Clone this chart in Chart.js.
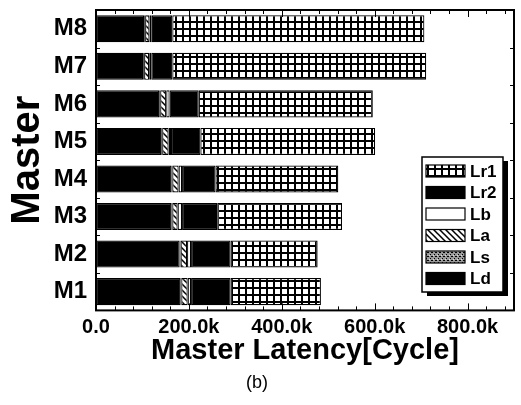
<!DOCTYPE html>
<html>
<head>
<meta charset="utf-8">
<script src="https://cdn.jsdelivr.net/npm/chart.js@4.4.1/dist/chart.umd.min.js"></script>
<style>
html, body { margin: 0; padding: 0; background: #fff; }
#wrap { width: 521px; height: 405px; }
</style>
</head>
<body>
<div id="wrap"><canvas id="latency-chart" width="521" height="405"></canvas></div>
<script>
// values in cycles
const masters = ['M1', 'M2', 'M3', 'M4', 'M5', 'M6', 'M7', 'M8'];
const ld  = [181600, 180100, 162200, 162200, 140500, 136200, 101600, 103800];
const ls  = [2000, 2000, 2000, 2000, 2000, 2000, 2000, 2000];
const la  = [13800, 14000, 11600, 13700, 13800, 13100, 11000, 9400];
const lb  = [7300, 8600, 9500, 7400, 5200, 7200, 4400, 4800];
const lr2 = [85000, 85000, 75700, 72000, 63300, 62700, 45300, 44300];
const lr1 = [194600, 187500, 268700, 264400, 376200, 374800, 546700, 542700];
const xTickLabels = ['0.0', '200.0k', '400.0k', '600.0k', '800.0k'];
const xMax = 900000;
const majorStep = 200000;
const minorStep = 40000;

const FONT = 'Liberation Sans, Arial, sans-serif';
Chart.defaults.color = '#000';
Chart.defaults.font.family = FONT;

function makePattern(w, h, draw) {
    const c = document.createElement('canvas');
    c.width = w;
    c.height = h;
    const g = c.getContext('2d');
    draw(g, w, h);
    return g.createPattern(c, 'repeat');
}

const ctx = document.getElementById('latency-chart').getContext('2d');

const gridFill = makePattern(7, 7, (g, w, h) => {
    g.fillStyle = '#fff';
    g.fillRect(0, 0, w, h);
    g.fillStyle = '#000';
    g.fillRect(0, 0, w, 2);
    g.fillRect(0, 0, 2, h);
});
const hatchFill = makePattern(6, 6, (g, w, h) => {
    g.fillStyle = '#fff';
    g.fillRect(0, 0, w, h);
    g.strokeStyle = '#000';
    g.lineWidth = 1.5;
    g.beginPath();
    g.moveTo(-1, -1); g.lineTo(w + 1, h + 1);
    g.moveTo(w - 1, -1); g.lineTo(w + 1, 1);
    g.moveTo(-1, h - 1); g.lineTo(1, h + 1);
    g.stroke();
});
const denseFill = makePattern(4, 4, (g, w, h) => {
    g.fillStyle = '#999';
    g.fillRect(0, 0, w, h);
    g.fillStyle = '#000';
    g.fillRect(0, 0, 1, 1);
    g.fillRect(2, 2, 1, 1);
    g.fillRect(3, 0, 1, 1);
    g.fillStyle = '#ddd';
    g.fillRect(1, 3, 1, 1);
});

const series = [
    { label: 'Ld', data: ld, fill: '#000' },
    { label: 'Ls', data: ls, fill: denseFill },
    { label: 'La', data: la, fill: hatchFill },
    { label: 'Lb', data: lb, fill: '#fff' },
    { label: 'Lr2', data: lr2, fill: '#000' },
    { label: 'Lr1', data: lr1, fill: gridFill },
];

const isMajor = v => Math.abs(v / majorStep - Math.round(v / majorStep)) < 1e-6;

// frame with inward ticks on all four sides
const frameTicks = {
    id: 'frameTicks',
    afterDatasetsDraw(chart) {
        const { ctx, chartArea: a, scales: { x, y } } = chart;
        ctx.save();
        ctx.strokeStyle = '#000';
        ctx.lineWidth = 1;
        ctx.beginPath();
        x.ticks.forEach(t => {
            const px = Math.round(x.getPixelForValue(t.value)) + 0.5;
            const len = isMajor(t.value) ? 7 : 4;
            ctx.moveTo(px, a.bottom); ctx.lineTo(px, a.bottom - len);
            ctx.moveTo(px, a.top); ctx.lineTo(px, a.top + len);
        });
        for (let i = 0; i <= masters.length; i++) {
            const py = Math.round(y.getPixelForValue(i - 0.5)) + 0.5;
            ctx.moveTo(a.left, py); ctx.lineTo(a.left + 4, py);
            ctx.moveTo(a.right, py); ctx.lineTo(a.right - 4, py);
        }
        ctx.stroke();
        ctx.lineWidth = 2;
        ctx.strokeRect(a.left, a.top, a.right - a.left, a.bottom - a.top);
        ctx.restore();
    }
};

// boxed legend with shadow inside the plot, Lr1 on top
const boxLegend = {
    id: 'boxLegend',
    afterDraw(chart) {
        const { ctx, chartArea: a } = chart;
        const left = a.right - 92, top = a.top + 147, w = 81, h = 135;
        ctx.save();
        ctx.fillStyle = '#000';
        ctx.fillRect(left + 5, top + 4, w, h);
        ctx.fillStyle = '#fff';
        ctx.fillRect(left, top, w, h);
        ctx.strokeStyle = '#000';
        ctx.lineWidth = 1.5;
        ctx.strokeRect(left, top, w, h);
        const sets = chart.data.datasets.slice().reverse();
        ctx.font = 'bold 17px ' + FONT;
        ctx.textBaseline = 'middle';
        sets.forEach((ds, i) => {
            const cy = top + 14 + i * 21.5;
            ctx.fillStyle = ds.backgroundColor;
            ctx.fillRect(left + 4, cy - 6, 39, 12);
            ctx.lineWidth = 1.2;
            ctx.strokeRect(left + 4, cy - 6, 39, 12);
            ctx.fillStyle = '#000';
            ctx.fillText(ds.label, left + 48, cy + 1);
        });
        ctx.restore();
    }
};

const latencyChart = new Chart(ctx, {
    type: 'bar',
    data: {
        labels: masters,
        datasets: series.map(s => ({
            label: s.label,
            data: s.data,
            backgroundColor: s.fill,
            borderColor: '#000',
            borderWidth: 1.2,
            borderSkipped: false,
            categoryPercentage: 0.72,
            barPercentage: 1,
        })),
    },
    options: {
        indexAxis: 'y',
        responsive: false,
        animation: false,
        devicePixelRatio: 1,
        layout: { padding: { top: 10, right: 7, left: 0, bottom: 0 } },
        plugins: {
            legend: { display: false },
            tooltip: { enabled: false },
            title: {
                display: true,
                position: 'bottom',
                text: '(b)',
                font: { size: 18, weight: 'normal' },
                padding: { top: 0, bottom: 11 },
            },
        },
        scales: {
            x: {
                stacked: true,
                min: 0,
                max: xMax,
                grid: { display: false, drawTicks: false },
                border: { display: false },
                afterBuildTicks: s => {
                    const ticks = [];
                    for (let v = 0; v < xMax; v += minorStep) ticks.push({ value: v });
                    s.ticks = ticks;
                },
                ticks: {
                    autoSkip: false,
                    maxRotation: 0,
                    padding: 5,
                    font: { size: 20, weight: 'bold' },
                    callback: v => isMajor(v) ? (xTickLabels[Math.round(v / majorStep)] || '') : '',
                },
                title: {
                    display: true,
                    text: 'Master Latency[Cycle]',
                    font: { size: 29, weight: 'bold' },
                    padding: { top: 0, bottom: 4 },
                },
                afterFit: s => { s.height = 62; },
            },
            y: {
                stacked: true,
                reverse: true,
                grid: { display: false, drawTicks: false },
                border: { display: false },
                ticks: {
                    padding: 9,
                    font: { size: 24, weight: 'bold' },
                },
                title: {
                    display: true,
                    text: 'Master',
                    font: { size: 40, weight: 'bold' },
                    padding: { top: 4, bottom: 0 },
                },
                afterFit: s => {
                    s.width = 96;
                    s.paddingTop = 0;
                    s.paddingBottom = 0;
                },
            },
        },
    },
    plugins: [frameTicks, boxLegend],
});
</script>
</body>
</html>
